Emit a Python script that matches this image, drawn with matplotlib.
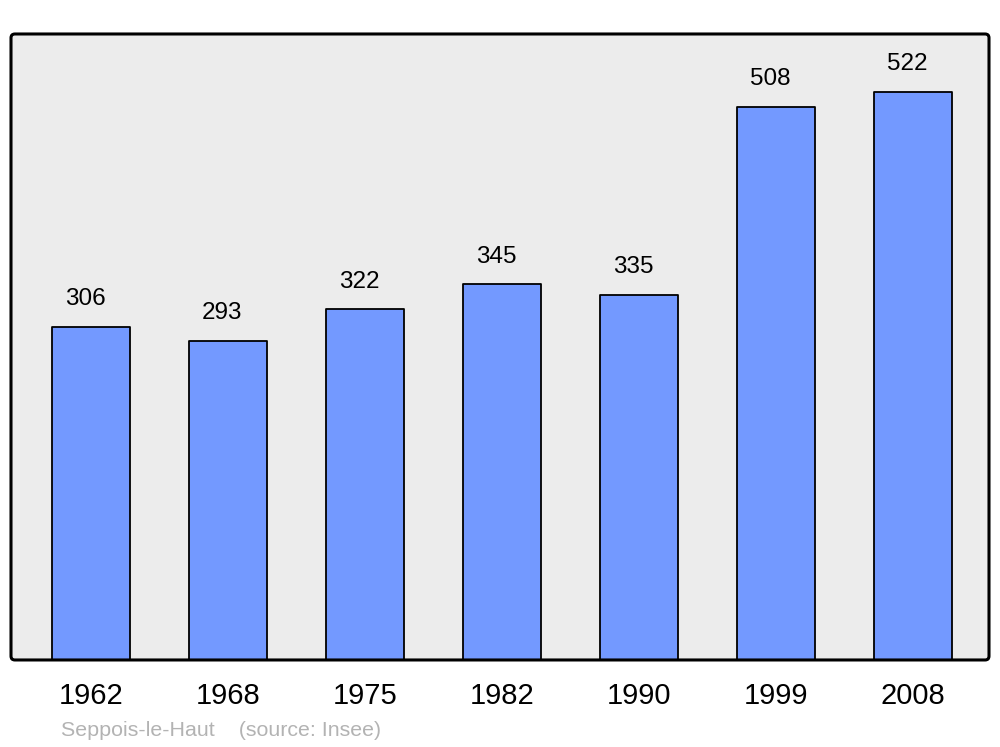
import matplotlib.pyplot as plt
from matplotlib.patches import FancyBboxPatch

plt.rcParams['font.family'] = ['Liberation Sans', 'DejaVu Sans']

years = ['1962', '1968', '1975', '1982', '1990', '1999', '2008']
population = [306, 293, 322, 345, 335, 508, 522]

fig = plt.figure(figsize=(10, 7.47), dpi=100)
ax = fig.add_axes([0.011, 0.1165, 0.978, 0.838])
ax.patch.set_visible(False)
for s in ax.spines.values():
    s.set_visible(False)

asp = 978 / 626
ax.add_patch(FancyBboxPatch((0, 0), 1, 1, boxstyle="round,pad=0,rounding_size=0.004",
                            mutation_aspect=asp, transform=ax.transAxes,
                            facecolor='#ececec', edgecolor='none', zorder=0, clip_on=False))
ax.add_patch(FancyBboxPatch((0, 0), 1, 1, boxstyle="round,pad=0,rounding_size=0.004",
                            mutation_aspect=asp, transform=ax.transAxes,
                            facecolor='none', edgecolor='black', lw=2.2, zorder=5, clip_on=False))

x = range(len(years))
bars = ax.bar(x, population, width=0.575, color='#7399ff', edgecolor='black',
              linewidth=1.3, zorder=2)
for b in bars:
    b.set_joinstyle('round')

# value labels sit a little left of the bar centre in the original
for xi, v in zip(x, population):
    ax.annotate(str(v), (xi, v), xytext=(-4, 20), textcoords='offset points',
                ha='center', va='center', fontsize=17.5)

ax.set_xlim(-0.584, 6.555)
ax.set_ylim(0, 575)
ax.set_yticks([])
ax.set_xticks(list(x))
ax.set_xticklabels(years, fontsize=21)
ax.tick_params(axis='x', length=0, pad=16)
for lbl in ax.get_xticklabels():
    lbl.set_x(lbl.get_position()[0])

fig.text(0.061, 1 - 730 / 747, 'Seppois-le-Haut    (source: Insee)', color='#b3b3b3',
         fontsize=15.4, va='center', ha='left')

fig.savefig('out.png', dpi=100)
